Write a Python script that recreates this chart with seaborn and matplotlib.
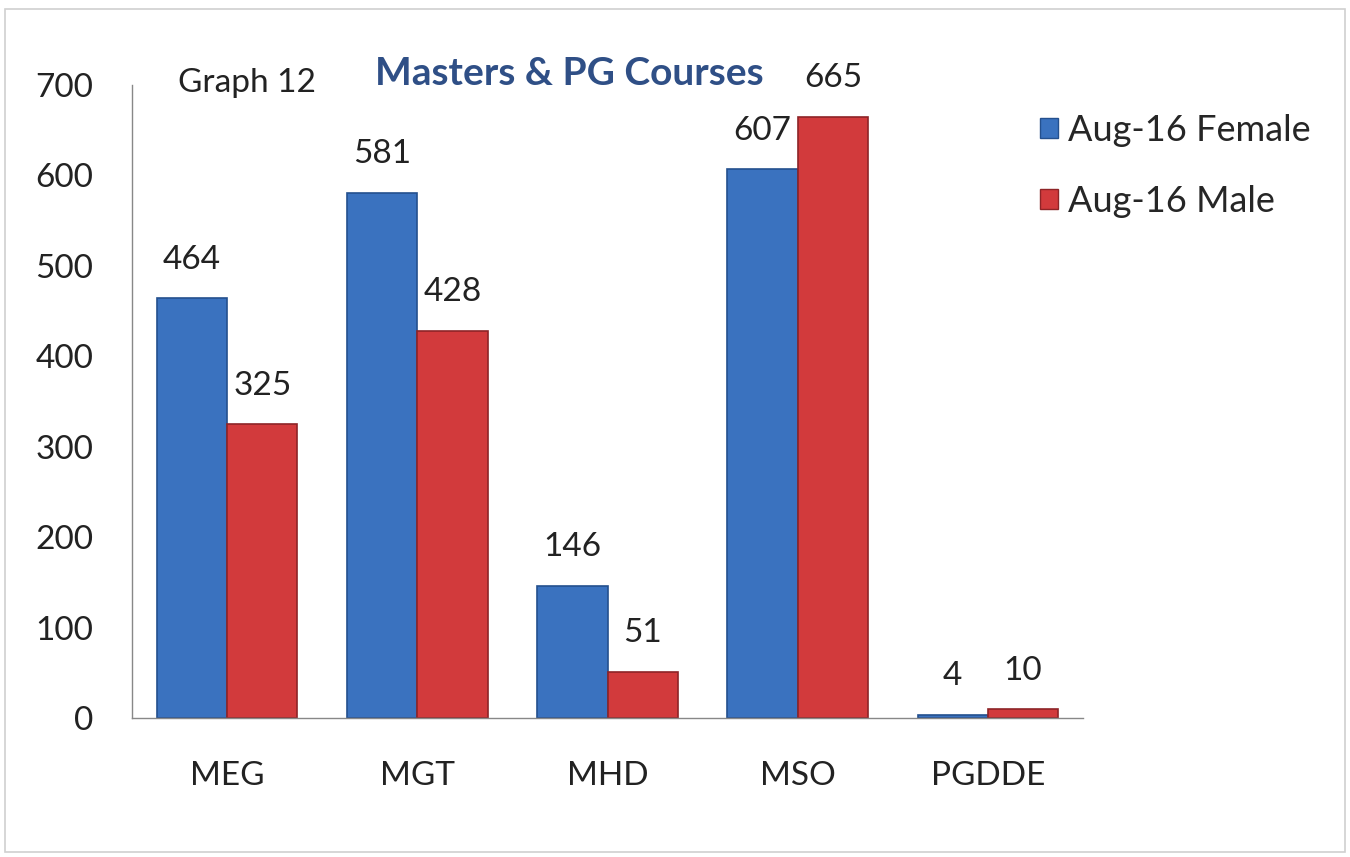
import matplotlib.pyplot as plt
import matplotlib.patches as mpatches
import pandas as pd
import seaborn as sns

courses = ['MEG', 'MGT', 'MHD', 'MSO', 'PGDDE']
female = [464, 581, 146, 607, 4]
male = [325, 428, 51, 665, 10]
series = ['Aug-16 Female', 'Aug-16 Male']

sns.set_style('white')
plt.rcParams['font.family'] = ['Lato', 'DejaVu Sans']

data = pd.DataFrame({'Course': courses, series[0]: female, series[1]: male})
data = data.melt(id_vars='Course', var_name='Series', value_name='Count')

colors = ['#3a72bf', '#d23a3c']
edges = ['#24508e', '#8e2427']
FS = 24

fig = plt.figure(figsize=(13.5, 8.57), dpi=100)
ax = fig.add_axes([0.0978, 0.162, 0.7044, 0.7388])
sns.barplot(data=data, x='Course', y='Count', hue='Series', palette=colors,
            width=0.74, ax=ax, legend=False, saturation=1)

for cont, ec in zip(ax.containers, edges):
    for bar in cont:
        bar.set_edgecolor(ec)
        bar.set_linewidth(1.2)
    ax.bar_label(cont, fontsize=FS, color='#222222', padding=17)

ax.set_ylim(0, 700)
ax.set_yticks(range(0, 701, 100))
ax.tick_params(axis='both', length=0, labelsize=FS, colors='#222222')
ax.tick_params(axis='x', pad=31)
ax.tick_params(axis='y', pad=28)
ax.set_xlabel(None)
ax.set_ylabel(None)
for s in ['top', 'right']:
    ax.spines[s].set_visible(False)
for s in ['left', 'bottom']:
    ax.spines[s].set_color('#888888')
    ax.spines[s].set_linewidth(1)

fig.text(0.422, 0.914, 'Masters & PG Courses', fontsize=28, fontweight='bold',
         color='#2f4f86', ha='center', va='center')
fig.text(0.132, 0.903, 'Graph 12', fontsize=FS, color='#222222', va='center')

handles = [mpatches.Patch(facecolor=c, edgecolor=e, label=l)
           for c, e, l in zip(colors, edges, series)]
fig.legend(handles=handles, loc='upper left', bbox_to_anchor=(0.746, 0.905),
           frameon=False, fontsize=26, labelspacing=1.05, handlelength=0.5,
           handleheight=0.5, handletextpad=0.3)

fig.patches.append(mpatches.Rectangle((0.004, 0.006), 0.992, 0.984,
                                      transform=fig.transFigure, fill=False,
                                      edgecolor='#d0d0d0', linewidth=1.2))

fig.savefig('out.png', dpi=100)
